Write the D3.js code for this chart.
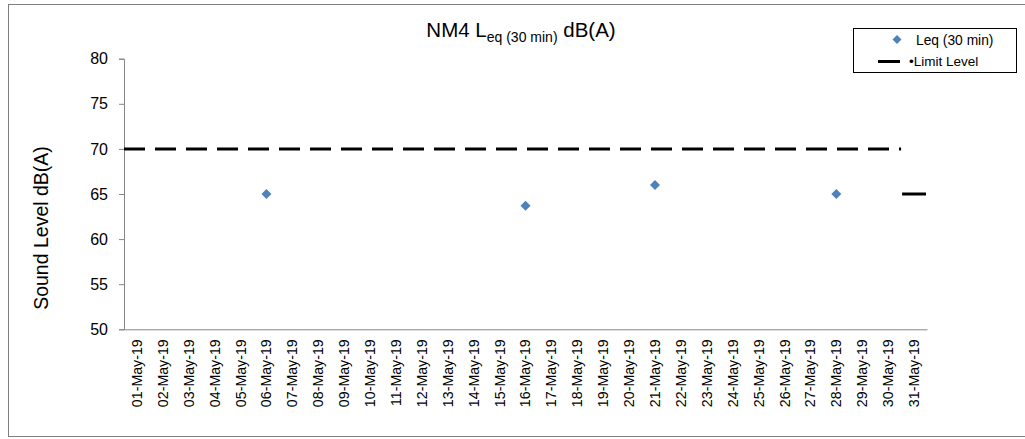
<!DOCTYPE html>
<html>
<head>
<meta charset="utf-8">
<script src="https://cdn.jsdelivr.net/npm/d3@7"></script>
<style>
  html, body { margin: 0; padding: 0; background: #fff; }
  svg { display: block; font-family: "Liberation Sans", Arial, sans-serif; }
</style>
</head>
<body>
<svg id="chart" width="1025" height="439"></svg>
<script>
// ---- data ----
const categories = [
  "01-May-19","02-May-19","03-May-19","04-May-19","05-May-19","06-May-19","07-May-19",
  "08-May-19","09-May-19","10-May-19","11-May-19","12-May-19","13-May-19","14-May-19",
  "15-May-19","16-May-19","17-May-19","18-May-19","19-May-19","20-May-19","21-May-19",
  "22-May-19","23-May-19","24-May-19","25-May-19","26-May-19","27-May-19","28-May-19",
  "29-May-19","30-May-19","31-May-19"
];
const leqDates = ["06-May-19", "16-May-19", "21-May-19", "28-May-19"];
const leqValues = [65.0, 63.7, 66.0, 65.0];
const limitLevel = 70;
const limitStart = "01-May-19";
const limitEnd = "30-May-19";
const extraMarkDate = "31-May-19";
const extraMarkValue = 65;
const yTicks = [50, 55, 60, 65, 70, 75, 80];

// ---- layout ----
const svg = d3.select("#chart");
const plot = { left: 124, right: 927, top: 58.7, bottom: 329.3 };

const x = d3.scaleBand().domain(categories).range([plot.left, plot.right]).padding(0);
const y = d3.scaleLinear().domain([50, 80]).range([plot.bottom, plot.top]);

// outer frame
svg.append("rect")
  .attr("x", 8.5).attr("y", 4.5)
  .attr("width", 1030).attr("height", 432)
  .attr("fill", "none").attr("stroke", "#7f7f7f").attr("stroke-width", 1);

// title
const title = svg.append("text")
  .attr("x", 521).attr("y", 37)
  .attr("text-anchor", "middle")
  .attr("font-size", 20.5).attr("fill", "#000");
title.append("tspan").text("NM4 L");
title.append("tspan").attr("font-size", 14).attr("dy", 5).text("eq (30 min)");
title.append("tspan").attr("dy", -5).text(" dB(A)");

// y axis
const yAxis = d3.axisLeft(y).tickValues(yTicks).tickSize(5).tickPadding(11);
const yg = svg.append("g").attr("transform", `translate(${plot.left},0)`).call(yAxis);
yg.select(".domain").attr("stroke", "#868686");
yg.selectAll(".tick line").attr("stroke", "#868686");
yg.selectAll(".tick text").attr("font-size", 16).attr("fill", "#000")
  .attr("font-family", "'Liberation Sans', Arial, sans-serif");

// x axis
const xAxis = d3.axisBottom(x).tickSize(0).tickPadding(0);
const xg = svg.append("g").attr("transform", `translate(0,${plot.bottom})`).call(xAxis);
xg.select(".domain").attr("stroke", "#868686").attr("d", `M${plot.left},0.5H${plot.right + 0.5}`);
xg.selectAll(".tick text")
  .attr("font-size", 14.2).attr("fill", "#000")
  .attr("font-family", "'Liberation Sans', Arial, sans-serif")
  .attr("text-anchor", "end")
  .attr("transform", "rotate(-90)")
  .attr("x", -10).attr("y", 0).attr("dy", "0.35em");

// y axis title
svg.append("text")
  .attr("transform", `translate(48,228) rotate(-90)`)
  .attr("text-anchor", "middle")
  .attr("font-size", 19.5).attr("fill", "#000")
  .text("Sound Level dB(A)");

// limit line (dashed)
svg.append("line")
  .attr("x1", x(limitStart)).attr("x2", x(limitEnd) + x.bandwidth())
  .attr("y1", y(limitLevel)).attr("y2", y(limitLevel))
  .attr("stroke", "#000").attr("stroke-width", 3)
  .attr("stroke-dasharray", "21,10");

// short solid mark on last date
svg.append("line")
  .attr("x1", x(extraMarkDate) + 1).attr("x2", x(extraMarkDate) + x.bandwidth() - 1)
  .attr("y1", y(extraMarkValue)).attr("y2", y(extraMarkValue))
  .attr("stroke", "#000").attr("stroke-width", 3);

// Leq points
const diamond = d3.symbol().type(d3.symbolSquare).size(50);
svg.append("g").selectAll("path")
  .data(leqDates.map((d, i) => ({ date: d, value: leqValues[i] })))
  .join("path")
  .attr("d", diamond)
  .attr("transform", d => `translate(${x(d.date) + x.bandwidth() / 2},${y(d.value)}) rotate(45)`)
  .attr("fill", "#4f81bd");

// legend
const lg = svg.append("g");
lg.append("rect")
  .attr("x", 853.5).attr("y", 28.5).attr("width", 163).attr("height", 44)
  .attr("fill", "#fff").attr("stroke", "#000").attr("stroke-width", 1);
lg.append("path")
  .attr("d", d3.symbol().type(d3.symbolSquare).size(40))
  .attr("transform", "translate(897,39.5) rotate(45)")
  .attr("fill", "#4f81bd");
lg.append("text").attr("x", 916).attr("y", 44.5)
  .attr("font-size", 13.8).attr("fill", "#000").text("Leq (30 min)");
lg.append("line")
  .attr("x1", 878).attr("x2", 900).attr("y1", 61.5).attr("y2", 61.5)
  .attr("stroke", "#000").attr("stroke-width", 3);
lg.append("text").attr("x", 909).attr("y", 65.5)
  .attr("font-size", 13.5).attr("fill", "#000").text("•Limit Level");
</script>
</body>
</html>
